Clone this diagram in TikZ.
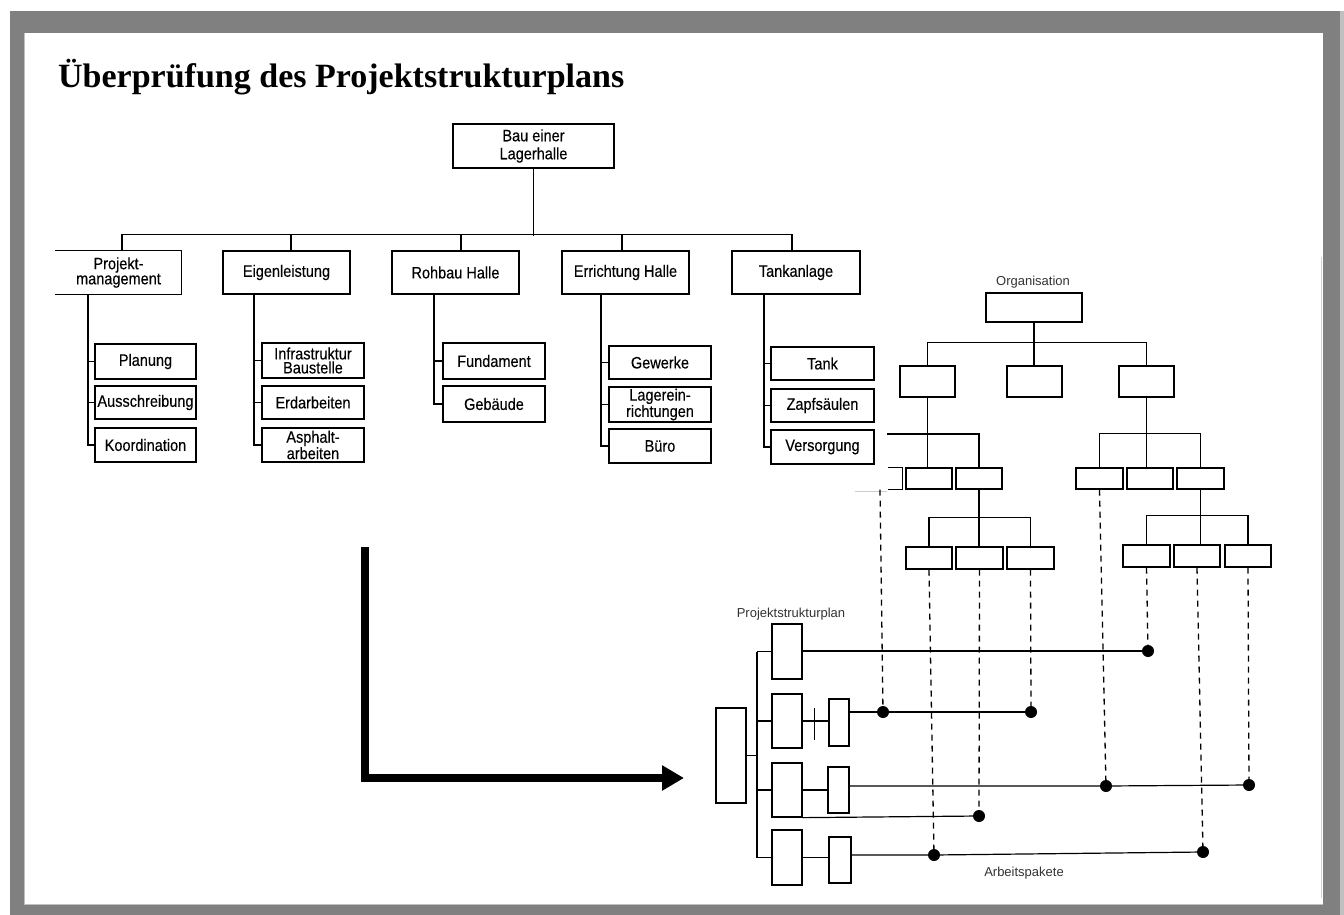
\documentclass[tikz,border=0pt]{standalone}
\usepackage{fontspec}
\setmainfont{Liberation Serif}
\newfontfamily\wbsfam[FakeStretch=0.88,FakeBold=0.25]{Liberation Sans}
\newfontfamily\lblfam{Liberation Sans}
\usetikzlibrary{arrows.meta}
\definecolor{framegray}{RGB}{128,128,128}
\definecolor{lightframe}{RGB}{192,192,192}
\definecolor{pinkedge}{RGB}{245,195,195}
\newcommand\wbsf{\wbsfam\fontsize{16.5}{14}\selectfont}
\newcommand\topf{\wbsfam\fontsize{16.5}{18}\selectfont}
\newcommand\lblf{\lblfam\fontsize{13}{14}\selectfont}
% style, name, x1, y1, x2, y2, text
\newcommand\mkbx[7]{\node[#1, minimum width={(#5-#3)*1pt}, minimum height={(#6-#4)*1pt}] (#2) at ({(#3+#5)/2},{(#4+#6)/2}) {#7};}
\begin{document}
\begin{tikzpicture}[x=1pt,y=-1pt,
  wbox/.style={draw, line width=1.3pt, inner sep=0pt, font=\wbsf, align=center},
  obox/.style={draw, line width=1.3pt, inner sep=0pt},
  con/.style={line width=1.2pt},
  dsh/.style={line width=1.3pt, dash pattern=on 6pt off 5pt},
  pdot/.style={circle, fill=black, inner sep=0pt, minimum size=12pt},
  lbl/.style={font=\lblf, text=black!80}]
\useasboundingbox (0,0) rectangle (1344,915);
% frame
\fill[white] (0,0) rectangle (1344,915);
\fill[framegray] (10,11) rectangle (1340,915);
\fill[lightframe] (1340,11) rectangle (1344,915);
\fill[white] (24,33) rectangle (1323,905);
\draw[lightframe, line width=1pt] (24.5,33) -- (24.5,904.5) -- (1323,904.5);
\draw[pinkedge, line width=0.8pt] (1321,257) -- (1321,898);

% title
\node[anchor=base west, inner sep=0pt, font=\bfseries\fontsize{34}{40}\selectfont] (title) at (58,88) {Überprüfung des Projektstrukturplans};

% ---------- WBS ----------
\mkbx{wbox,font=\topf}{top}{453}{124}{614}{168}{Bau einer\\Lagerhalle}
\mkbx{wbox,draw=none}{pm}{56}{251}{181}{294}{Projekt-\\management}
\draw[line width=1.3pt] (pm.north west) -- (pm.north east) -- (pm.south east) -- (pm.south west);
\mkbx{wbox}{eig}{223}{251}{350}{294}{Eigenleistung}
\mkbx{wbox}{roh}{392}{251}{519}{294}{Rohbau Halle}
\mkbx{wbox}{err}{562}{251}{689}{294}{Errichtung Halle}
\mkbx{wbox}{tank}{732}{251}{860}{294}{Tankanlage}

\draw[con] (top.south) -- ++(0,67);
\draw[con] ([xshift=3.5pt]pm.north) -- ++(0,-16) -| ([xshift=-4pt]tank.north);
\draw[con] ([xshift=4.5pt]eig.north) -- ++(0,-16);
\draw[con] ([xshift=5.5pt]roh.north) -- ++(0,-16);
\draw[con] ([xshift=-3.5pt]err.north) -- ++(0,-16);

% children
\mkbx{wbox}{pm1}{95}{344}{196}{379}{Planung}
\mkbx{wbox}{pm2}{95}{386}{196}{419}{Ausschreibung}
\mkbx{wbox}{pm3}{95}{428}{196}{462}{Koordination}
\mkbx{wbox}{e1}{262}{343}{364}{378}{Infrastruktur\\Baustelle}
\mkbx{wbox}{e2}{262}{386}{364}{419}{Erdarbeiten}
\mkbx{wbox}{e3}{262}{428}{364}{462}{Asphalt-\\arbeiten}
\mkbx{wbox}{r1}{443}{343}{545}{379}{Fundament}
\mkbx{wbox}{r2}{443}{386}{545}{422}{Gebäude}
\mkbx{wbox}{g1}{609}{346}{711}{379}{Gewerke}
\mkbx{wbox}{g2}{609}{387}{711}{422}{Lagerein-\\richtungen}
\mkbx{wbox}{g3}{609}{429}{711}{463}{Büro}
\mkbx{wbox}{t1}{771}{347}{874}{380}{Tank}
\mkbx{wbox}{t2}{771}{389}{874}{422}{Zapfsäulen}
\mkbx{wbox}{t3}{771}{430}{874}{464}{Versorgung}

\coordinate (pmv) at ([xshift=-30.5pt]pm.south);
\draw[con] (pmv) |- (pm3.west);
\draw[con] (pm1.west) -- (pm1.west -| pmv);
\draw[con] (pm2.west) -- (pm2.west -| pmv);
\coordinate (eiv) at ([xshift=-32.5pt]eig.south);
\draw[con] (eiv) |- (e3.west);
\draw[con] (e1.west) -- (e1.west -| eiv);
\draw[con] (e2.west) -- (e2.west -| eiv);
\coordinate (rov) at ([xshift=-21.5pt]roh.south);
\draw[con] (rov) |- (r2.west);
\draw[con] (r1.west) -- (r1.west -| rov);
\coordinate (erv) at ([xshift=-24.5pt]err.south);
\draw[con] (erv) |- (g3.west);
\draw[con] (g1.west) -- (g1.west -| erv);
\draw[con] (g2.west) -- (g2.west -| erv);
\coordinate (tav) at ([xshift=-32pt]tank.south);
\draw[con] (tav) |- (t3.west);
\draw[con] (t1.west) -- (t1.west -| tav);
\draw[con] (t2.west) -- (t2.west -| tav);

% ---------- Organisation chart ----------
\node[lbl] (orglbl) at (1033,282) {Organisation};
\mkbx{obox}{o0}{986}{293}{1082}{322}{}
\mkbx{obox}{oL}{900}{366}{955}{397}{}
\mkbx{obox}{oM}{1007}{366}{1062}{397}{}
\mkbx{obox}{oR}{1119}{366}{1174}{397}{}
\draw[con] (o0.south) -- (o0.south |- oM.north);
\draw[con] (oL.north) -- ++(0,-23) -| (oR.north);

\mkbx{obox,draw=none}{oL1}{858}{468}{902}{489}{}
\draw[line width=1.3pt] ([xshift=-15pt]oL1.north east) -- (oL1.north east) -- (oL1.south east) -- ([xshift=-15pt]oL1.south east);
\mkbx{obox}{oL2}{906}{468}{952}{489}{}
\mkbx{obox}{oL3}{956}{468}{1002}{489}{}
\coordinate (bLs) at (887,434);
\draw[con] (bLs) -| (oL3.north);
\draw[con] (oL.south) -- (oL.south |- oL2.north);

\mkbx{obox}{oL31}{906}{547}{952}{569}{}
\mkbx{obox}{oL32}{956}{547}{1003}{569}{}
\mkbx{obox}{oL33}{1007}{547}{1054}{569}{}
\draw[con] (oL3.south) -- (oL3.south |- oL32.north);
\draw[con] (oL31.north) -- ++(0,-29) -| (oL33.north);

\mkbx{obox}{oR1}{1076}{468}{1123}{489}{}
\mkbx{obox}{oR2}{1127}{468}{1173}{489}{}
\mkbx{obox}{oR3}{1177}{468}{1224}{489}{}
\draw[con] (oR.south) -- (oR.south |- oR2.north);
\draw[con] (oR1.north) -- ++(0,-34) -| (oR3.north);

\mkbx{obox}{oR31}{1123}{545}{1170}{567}{}
\mkbx{obox}{oR32}{1174}{545}{1220}{567}{}
\mkbx{obox}{oR33}{1225}{545}{1271}{567}{}
\draw[con] (oR3.south) -- (oR3.south |- oR32.north);
\draw[con] (oR31.north) -- ++(0,-29) -| (oR33.north);

\draw[black!20, line width=0.8pt] (855,491) -- (887,491);

% ---------- Projektstrukturplan ----------
\node[lbl] (psplbl) at (791,614) {Projektstrukturplan};
\node[lbl] (aplbl) at (1024,873) {Arbeitspakete};
\mkbx{obox}{p0}{716}{708}{746}{803}{}
\mkbx{obox}{p1}{772}{624}{802}{679}{}
\mkbx{obox}{p2}{772}{694}{802}{748}{}
\mkbx{obox}{p3}{772}{763}{802}{817}{}
\mkbx{obox}{p4}{772}{830}{802}{885}{}
\mkbx{obox}{s2}{829}{699}{849}{746}{}
\mkbx{obox}{s3}{828}{767}{849}{813}{}
\mkbx{obox}{s4}{829}{837}{851}{883}{}
\coordinate (tr) at (757,655);
\draw[con] (p0.east) -- (p0.east -| tr);
\draw[con] (tr |- p1.west) -- (tr |- p4.west);
\draw[con] (tr |- p1.west) -- (p1.west);
\draw[con] (tr |- p2.west) -- (p2.west);
\draw[con] (tr |- p3.west) -- (p3.west);
\draw[con] (tr |- p4.west) -- (p4.west);
\draw[con] (p2.east) -- (s2.west |- p2.east);
\draw[con] ([xshift=12pt,yshift=13pt]p2.east) -- ([xshift=12pt,yshift=-19pt]p2.east);
\draw[con] (p3.east) -- (s3.west |- p3.east);
\draw[con] (p4.east) -- (s4.west |- p4.east);

% work packages
\node[pdot] (d11) at (1148,651) {};
\node[pdot] (d21) at (883,712) {};
\node[pdot] (d22) at (1031,712) {};
\node[pdot] (d31) at (1106,786) {};
\node[pdot] (d32) at (1249,785) {};
\node[pdot] (d33) at (979,816) {};
\node[pdot] (d41) at (934,855) {};
\node[pdot] (d42) at (1203,852) {};

\draw[dsh] (oL1.south) -- (d21);
\draw[dsh] (oL31.south) -- (d41);
\draw[dsh] (oL32.south) -- (d33);
\draw[dsh] (oL33.south) -- (d22);
\draw[dsh] (oR1.south) -- (d31);
\draw[dsh] (oR31.south) -- (d11);
\draw[dsh] (oR32.south) -- (d42);
\draw[dsh] (oR33.south) -- (d32);

\draw[con] (p1.east |- d11) -- (d11);
\draw[con] (s2.east |- d21) -- (d21) -- (d22);
\draw[con] (s3.east |- d31) -- (d31) -- (d32);
\draw[con] (p3.south east) -- (d33);
\draw[con] (s4.east |- d41) -- (d41) -- (d42);

% big arrow
\coordinate (arrS) at (365,547);
\coordinate (arrE) at (684,778);
\draw[line width=7.5pt, -{Triangle[length=22pt,width=24pt]}] (arrS) |- (arrE);
\end{tikzpicture}
\end{document}
